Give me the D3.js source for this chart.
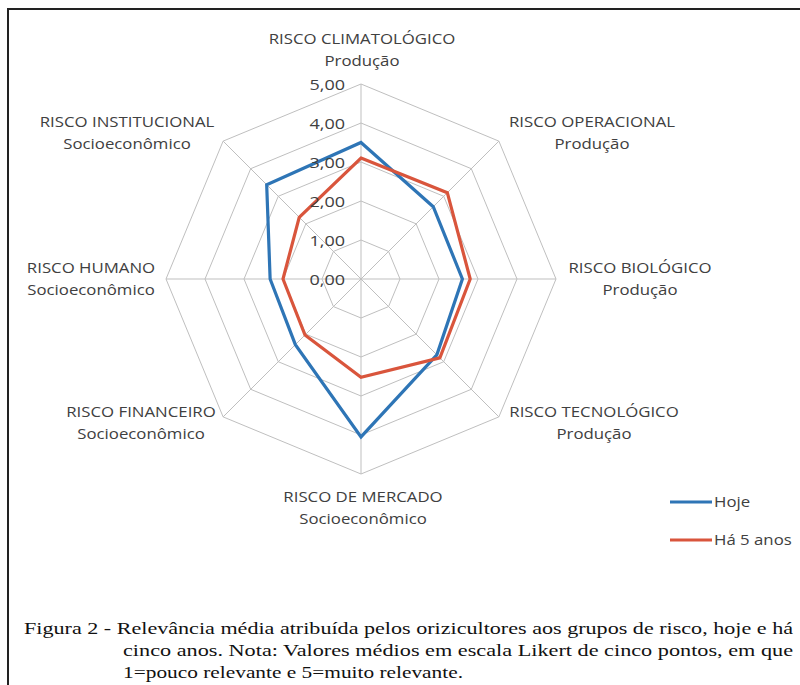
<!DOCTYPE html>
<html>
<head>
<meta charset="utf-8">
<script src="https://d3js.org/d3.v7.min.js"></script>
<style>
  body { margin: 0; background: #fff; }
</style>
</head>
<body>
<svg width="800" height="685"></svg>
<script>
// eixos do radar (sentido horario a partir do topo)
var riscos = ['RISCO CLIMATOLÓGICO', 'RISCO OPERACIONAL', 'RISCO BIOLÓGICO', 'RISCO TECNOLÓGICO',
              'RISCO DE MERCADO', 'RISCO FINANCEIRO', 'RISCO HUMANO', 'RISCO INSTITUCIONAL'];
var grupos = ['Produção', 'Produção', 'Produção', 'Produção',
              'Socioeconômico', 'Socioeconômico', 'Socioeconômico', 'Socioeconômico'];
var hoje = [3.5, 2.62, 2.6, 2.75, 4.05, 2.38, 2.33, 3.42];
var ha5anos = [3.1, 3.13, 2.8, 2.86, 2.52, 2.03, 2.0, 2.24];
var ticks = [0, 1, 2, 3, 4, 5];
var serieNomes = ['Hoje', 'Há 5 anos'];
var cores = ['#2e75b6', '#d9553c'];

var svg = d3.select('svg');
var cx = 361, cy = 279;
var sx = 1.2; // texto do original esticado na horizontal

var r = d3.scaleLinear().domain([0, 5]).range([0, 195]);
var ang = d3.scalePoint().domain(d3.range(riscos.length)).range([0, 2 * Math.PI * 7 / 8]);

function pt(i, v) {
  var a = ang(i);
  return [cx + r(v) * Math.sin(a), cy - r(v) * Math.cos(a)];
}

// moldura
svg.append('line').attr('x1', 7).attr('x2', 800).attr('y1', 9).attr('y2', 9)
  .attr('stroke', '#222').attr('stroke-width', 2);
svg.append('line').attr('x1', 8).attr('x2', 8).attr('y1', 8).attr('y2', 685)
  .attr('stroke', '#222').attr('stroke-width', 2);

var line = d3.line();

// grade
var grid = svg.append('g');
grid.selectAll('path.ring')
  .data(ticks.slice(1))
  .enter().append('path')
  .attr('d', t => line(d3.range(riscos.length).map(i => pt(i, t))) + 'Z')
  .attr('fill', 'none').attr('stroke', '#bfbfbf').attr('stroke-width', 1);

grid.selectAll('line.spoke')
  .data(d3.range(riscos.length))
  .enter().append('line')
  .attr('x1', cx).attr('y1', cy)
  .attr('x2', i => pt(i, 5)[0]).attr('y2', i => pt(i, 5)[1])
  .attr('stroke', '#bfbfbf').attr('stroke-width', 1);

// series
[hoje, ha5anos].forEach(function(vals, s) {
  svg.append('path')
    .attr('d', line(vals.map((v, i) => pt(i, v))) + 'Z')
    .attr('fill', 'none')
    .attr('stroke', cores[s])
    .attr('stroke-width', 3.2)
    .attr('stroke-linejoin', 'miter');
});

// rotulos dos ticks
svg.selectAll('text.tick')
  .data(ticks)
  .enter().append('text')
  .attr('transform', t => 'translate(' + (cx - 16) + ',' + (cy - r(t) + 6) + ') scale(' + sx + ',1)')
  .attr('text-anchor', 'end')
  .attr('font-family', 'Open Sans, sans-serif')
  .attr('font-size', 15)
  .attr('fill', '#404040')
  .text(t => d3.format('.2f')(t).replace('.', ','));

// rotulos das categorias
var labelPos = [[362, 44], [592, 127], [640, 273], [594, 417], [363, 502], [141, 417], [91, 273], [127, 127]];
var lab = svg.selectAll('g.lab')
  .data(riscos)
  .enter().append('g')
  .attr('transform', (d, i) => 'translate(' + labelPos[i][0] + ',' + labelPos[i][1] + ') scale(' + sx + ',1)')
  .attr('font-family', 'Open Sans, sans-serif')
  .attr('font-size', 14)
  .attr('fill', '#404040')
  .attr('text-anchor', 'middle');
lab.append('text').text(d => d);
lab.append('text').attr('y', 22).text((d, i) => grupos[i]);

// legenda
var leg = svg.selectAll('g.leg')
  .data(serieNomes)
  .enter().append('g')
  .attr('transform', (d, i) => 'translate(670,' + (502 + i * 38) + ')');
leg.append('line').attr('x1', 0).attr('x2', 42)
  .attr('stroke', (d, i) => cores[i]).attr('stroke-width', 3.2);
leg.append('text').attr('transform', 'translate(44,5) scale(' + sx + ',1)')
  .attr('font-family', 'Open Sans, sans-serif').attr('font-size', 14)
  .attr('fill', '#404040').text(d => d);

// legenda da figura
var cap = svg.append('g')
  .attr('font-family', 'Liberation Serif, Times New Roman, serif')
  .attr('font-size', 17.5)
  .attr('fill', '#111');
cap.append('text').attr('x', 24).attr('y', 634)
  .attr('textLength', 769).attr('lengthAdjust', 'spacingAndGlyphs')
  .text('Figura 2 - Relevância média atribuída pelos orizicultores aos grupos de risco, hoje e há');
cap.append('text').attr('x', 123).attr('y', 656)
  .attr('textLength', 670).attr('lengthAdjust', 'spacingAndGlyphs')
  .text('cinco anos. Nota: Valores médios em escala Likert de cinco pontos, em que');
cap.append('text').attr('x', 123).attr('y', 678)
  .attr('textLength', 340).attr('lengthAdjust', 'spacingAndGlyphs')
  .text('1=pouco relevante e 5=muito relevante.');
</script>
</body>
</html>
